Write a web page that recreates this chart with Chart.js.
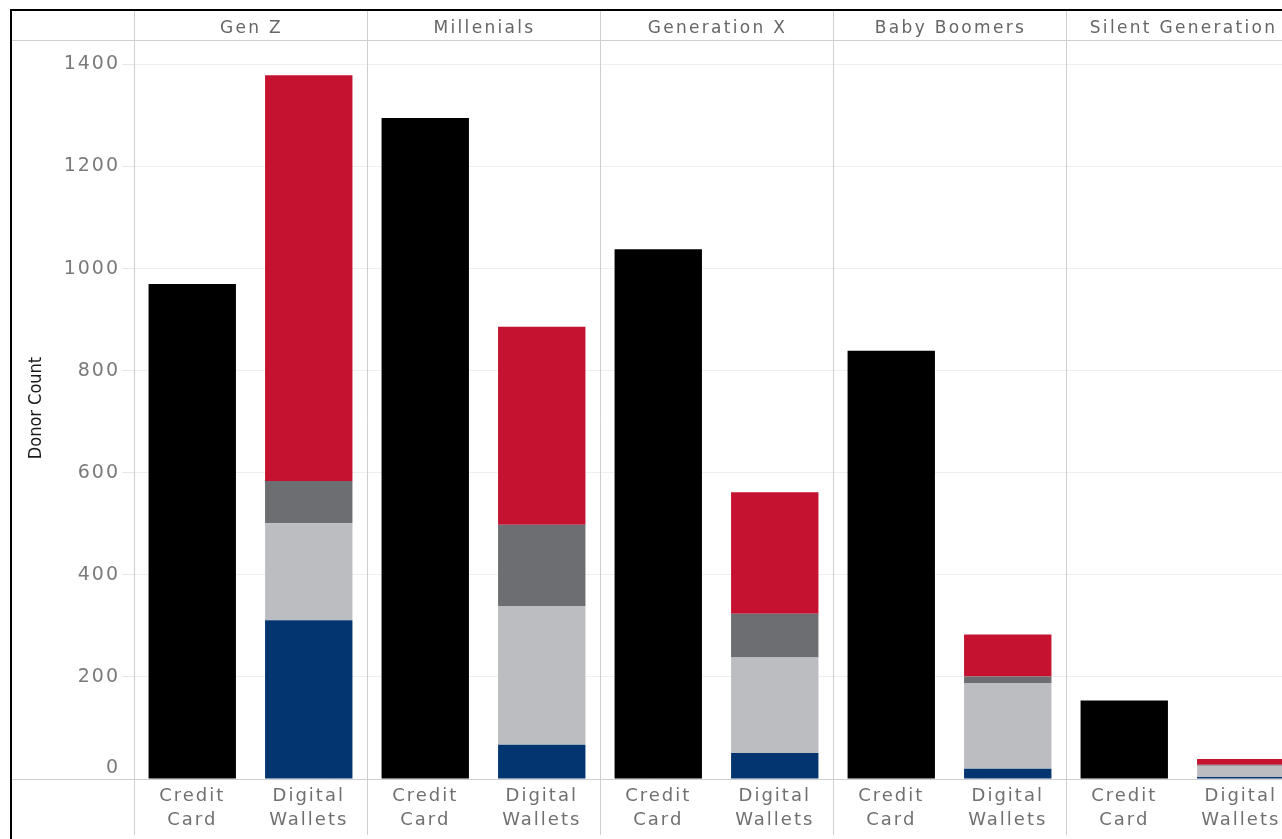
<!DOCTYPE html>
<html>
<head>
<meta charset="utf-8">
<title>Donor Count by Generation</title>
<script src="https://cdn.jsdelivr.net/npm/chart.js@4.4.1/dist/chart.umd.min.js"></script>
<style>
  html, body { margin: 0; padding: 0; background: #fff; overflow: hidden; }
  #wrap { position: absolute; left: 0; top: 0; width: 1300px; height: 839px; }
</style>
</head>
<body>
<div id="wrap"><canvas id="donors" width="1300" height="839"></canvas></div>
<script>
// generations across the top, payment method on each bar
var generations = ["Gen Z", "Millenials", "Generation X", "Baby Boomers", "Silent Generation"];
var methods = [["Credit", "Card"], ["Digital", "Wallets"]];
var yTitle = "Donor Count";

// donor counts per generation
var creditCard = [970, 1295, 1038, 839, 154];
var walletBlue = [311, 67, 51, 20, 4];
var walletLightGray = [190, 272, 187, 168, 22];
var walletDarkGray = [83, 159, 86, 13, 2];
var walletRed = [795, 388, 238, 82, 11];

var yTicks = [0, 200, 400, 600, 800, 1000, 1200, 1400];
var yMax = 1446;

// every generation gets two slots: credit card, then digital wallets
var slots = [];
generations.forEach(function (g) {
    methods.forEach(function (m) { slots.push(m); });
});

function onCard(values) {
    var out = [];
    values.forEach(function (v) { out.push(v, null); });
    return out;
}
function onWallet(values) {
    var out = [];
    values.forEach(function (v) { out.push(null, v); });
    return out;
}

var FONT = "'DejaVu Sans', Verdana, sans-serif";
var NARROW = "'Liberation Sans Narrow', 'DejaVu Sans Condensed', sans-serif";
var LINE = "#cfcfcf";

// frame, header row, panel separators and the axis title
var panelPlugin = {
    id: "panels",
    beforeDraw: function (chart) {
        chart.ctx.letterSpacing = "2px";
    },
    afterDraw: function (chart) {
        var ctx = chart.ctx;
        var area = chart.chartArea;
        var x = chart.scales.x;
        var slotW = x.width / slots.length;
        var right = chart.width;

        ctx.save();
        ctx.lineWidth = 1;
        ctx.strokeStyle = LINE;

        // header bottom and axis base lines
        ctx.beginPath();
        ctx.moveTo(11, 40.5); ctx.lineTo(right, 40.5);
        ctx.moveTo(11, area.bottom + 0.5); ctx.lineTo(right, area.bottom + 0.5);
        ctx.stroke();

        ctx.font = "17px " + FONT;
        ctx.fillStyle = "#666";
        ctx.textAlign = "center";
        ctx.textBaseline = "alphabetic";
        ctx.letterSpacing = "2.3px";

        generations.forEach(function (g, i) {
            var left = x.getPixelForTick(i * 2) - slotW / 2;
            var px = Math.round(left) + 0.5;
            ctx.beginPath();
            ctx.moveTo(px, 10);
            ctx.lineTo(px, 835);
            ctx.stroke();
            ctx.fillText(g, left + slotW + 1, 33);
        });

        // y axis title, condensed and unspaced
        ctx.letterSpacing = "0px";
        ctx.font = "18px " + NARROW;
        ctx.fillStyle = "#1a1a1a";
        ctx.textBaseline = "middle";
        ctx.translate(36, (area.top + area.bottom) / 2 - 2);
        ctx.rotate(-Math.PI / 2);
        ctx.fillText(yTitle, 0, 0);
        ctx.setTransform(1, 0, 0, 1, 0, 0);

        // outer frame
        ctx.strokeStyle = "#000";
        ctx.lineWidth = 2;
        ctx.beginPath();
        ctx.moveTo(11, 839);
        ctx.lineTo(11, 10);
        ctx.lineTo(right, 10);
        ctx.stroke();
        ctx.restore();
    }
};

var ctx = document.getElementById("donors");

var donorChart = new Chart(ctx, {
    type: "bar",
    data: {
        labels: slots,
        datasets: [
            { label: "Credit Card", data: onCard(creditCard), backgroundColor: "#000000" },
            { label: "Wallet 1", data: onWallet(walletBlue), backgroundColor: "#033570" },
            { label: "Wallet 2", data: onWallet(walletLightGray), backgroundColor: "#bcbdc0" },
            { label: "Wallet 3", data: onWallet(walletDarkGray), backgroundColor: "#6d6e71" },
            { label: "Wallet 4", data: onWallet(walletRed), backgroundColor: "#c41230" }
        ]
    },
    options: {
        responsive: false,
        animation: false,
        layout: { padding: { top: 41, left: 12, right: 1, bottom: 0 } },
        datasets: {
            bar: { categoryPercentage: 1, barPercentage: 0.75, borderWidth: 0 }
        },
        plugins: {
            legend: { display: false },
            tooltip: { enabled: false }
        },
        scales: {
            x: {
                stacked: true,
                grid: { display: false, drawTicks: false },
                border: { display: false },
                afterFit: function (s) { s.height = 60; },
                ticks: {
                    padding: 6,
                    color: "#707070",
                    font: { family: FONT, size: 18, lineHeight: 1.3 },
                    maxRotation: 0,
                    autoSkip: false
                }
            },
            y: {
                stacked: true,
                min: 0,
                max: yMax,
                afterBuildTicks: function (s) {
                    s.ticks = yTicks.map(function (v) { return { value: v }; });
                },
                afterFit: function (s) { s.width = 122; },
                grid: {
                    color: "#efefef",
                    tickColor: "#e6e6e6",
                    tickLength: 12
                },
                border: { display: false },
                ticks: {
                    padding: 2,
                    color: "#7a7a7a",
                    font: { family: FONT, size: 19 },
                    callback: function (v) { return v === 0 ? ["0", ""] : String(v); }
                },
                title: { display: false }
            }
        }
    },
    plugins: [panelPlugin]
});
</script>
</body>
</html>
